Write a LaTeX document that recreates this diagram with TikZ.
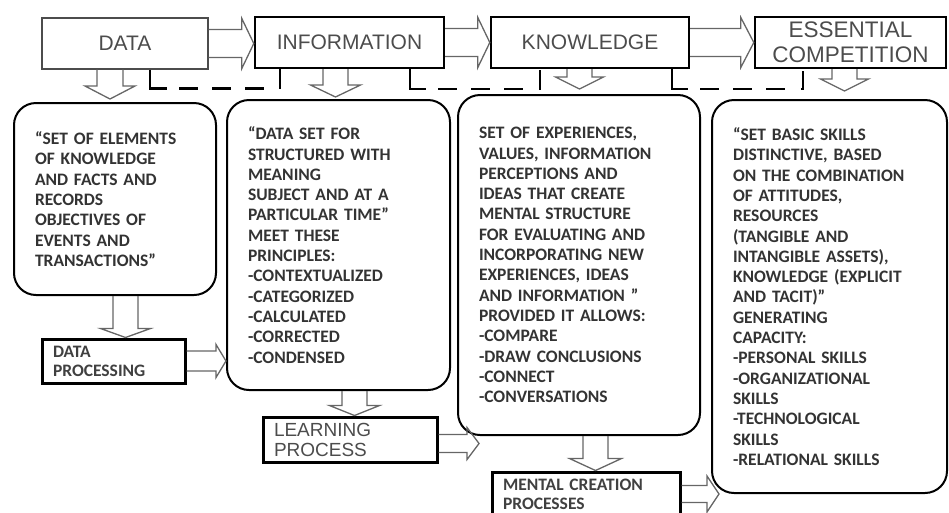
\documentclass[tikz,border=0pt]{standalone}
\usepackage{fontspec}
\setmainfont{Carlito}
\newfontfamily\arialfont{Liberation Sans}
\usetikzlibrary{calc}

% block arrows: from, to, half shaft, half head, head length
\newcommand{\blockright}[5]{%
  \draw[blockarrow] let \p1=(#1), \p2=(#2) in
    (\x1,\y1+#3pt) -- (\x2-#5pt,\y1+#3pt) -- (\x2-#5pt,\y1+#4pt)
    -- (\x2,\y1) -- (\x2-#5pt,\y1-#4pt) -- (\x2-#5pt,\y1-#3pt) -- (\x1,\y1-#3pt);}
\newcommand{\blockdown}[5]{%
  \draw[blockarrow] let \p1=(#1), \p2=(#2) in
    (\x1+#3pt,\y1) -- (\x1+#3pt,\y2+#5pt) -- (\x1+#4pt,\y2+#5pt)
    -- (\x1,\y2) -- (\x1-#4pt,\y2+#5pt) -- (\x1-#3pt,\y2+#5pt) -- (\x1-#3pt,\y1);}

\tikzset{
  stage/.style={draw=black, line width=2.4pt, minimum height=51pt, inner sep=0pt,
    align=center, text=black!70, font=\arialfont\fontsize{21}{25}\selectfont},
  defbox/.style={draw=black, line width=2pt, rounded corners=22pt, align=left,
    inner xsep=21pt, inner ysep=0pt, text=black!80,
    font=\bfseries\fontsize{17.5}{20.3}\selectfont},
  procbox/.style={draw=black, line width=3pt, align=left, inner xsep=11pt,
    inner ysep=0pt, text=black!75, font=\bfseries\fontsize{17.5}{19}\selectfont},
  blockarrow/.style={draw=black!60, line width=1.3pt, line join=miter},
  fbline/.style={line width=2.4pt,
    dash pattern=on 36pt off 12pt on 19pt off 14pt on 19pt off 14pt on 19pt off 16pt on 20pt off 20pt},
}

\begin{document}
\begin{tikzpicture}[x=1pt, y=-1pt]
\useasboundingbox (0,0) rectangle (949,512);

% stages
\node[stage, draw=black!70, line width=1.2pt, minimum width=166pt] (data) at (125,43.5) {DATA};
\node[stage, minimum width=189pt] (info) at (349.5,42.5) {INFORMATION};
\node[stage, minimum width=198pt] (know) at (590,42.5) {KNOWLEDGE};
\node[stage, minimum width=191pt, font=\arialfont\fontsize{22.5}{25}\selectfont] (comp) at (850.5,42.5) {ESSENTIAL\\COMPETITION};

% definitions
\node[defbox, text width=160pt, minimum height=192pt] (datadef) at (115,199)
  {“SET OF ELEMENTS\\OF KNOWLEDGE\\AND FACTS AND\\RECORDS\\OBJECTIVES OF\\EVENTS AND\\TRANSACTIONS”};
\node[defbox, text width=181pt, minimum height=290pt] (infodef) at (338.5,245)
  {“DATA SET FOR\\STRUCTURED WITH\\MEANING\\SUBJECT AND AT A\\PARTICULAR TIME”\\MEET THESE\\PRINCIPLES:\\-CONTEXTUALIZED\\-CATEGORIZED\\-CALCULATED\\-CORRECTED\\-CONDENSED};
\node[defbox, text width=200pt, minimum height=340pt] (knowdef) at (579,265)
  {SET OF EXPERIENCES,\\VALUES, INFORMATION\\PERCEPTIONS AND\\IDEAS THAT CREATE\\MENTAL STRUCTURE\\FOR EVALUATING AND\\INCORPORATING NEW\\EXPERIENCES, IDEAS\\AND INFORMATION ”\\PROVIDED IT ALLOWS:\\-COMPARE\\-DRAW CONCLUSIONS\\-CONNECT\\-CONVERSATIONS};
\node[defbox, text width=193pt, minimum height=393pt] (compdef) at (829.5,296.5)
  {“SET BASIC SKILLS\\DISTINCTIVE, BASED\\ON THE COMBINATION\\OF ATTITUDES,\\RESOURCES\\(TANGIBLE AND\\INTANGIBLE ASSETS),\\KNOWLEDGE (EXPLICIT\\AND TACIT)”\\GENERATING\\CAPACITY:\\-PERSONAL SKILLS\\-ORGANIZATIONAL\\SKILLS\\-TECHNOLOGICAL\\SKILLS\\-RELATIONAL SKILLS};

% processes
\node[procbox, text width=121pt, minimum height=44pt] (dproc) at (113.5,361) {DATA\\PROCESSING};
\node[procbox, text width=152pt, minimum height=45pt, text=black!70,
  font=\arialfont\fontsize{19}{20}\selectfont] (lproc) at (350,439.5) {LEARNING\\PROCESS};
\node[procbox, text width=166pt, minimum height=44pt] (mproc) at (586,494) {MENTAL CREATION\\PROCESSES};

% arrows between stages
\blockright{data.east}{info.west}{14}{25}{12}
\blockright{info.east}{know.west}{14}{25}{12}
\blockright{know.east}{comp.west}{14}{25}{13}

% arrows down to definitions
\blockdown{[xshift=-15pt]data.south}{[yshift=3pt]datadef.north}{13}{25}{13}
\blockdown{[xshift=-14pt]info.south}{[yshift=2pt]infodef.north}{12.5}{25}{12}
\blockdown{[xshift=-10.5pt]know.south}{[yshift=5pt]knowdef.north}{12.5}{24}{12}
\blockdown{[xshift=-6pt]comp.south}{[yshift=8pt]compdef.north}{12.5}{24}{12}

% processes
\blockdown{[xshift=10.5pt]datadef.south}{dproc.north}{12.5}{25}{9}
\blockright{dproc.east}{infodef.west}{10}{16.5}{10}
\blockdown{[xshift=16pt]infodef.south}{lproc.north}{12.5}{25}{10}
\blockright{[yshift=-4pt]lproc.east}{[xshift=22pt]knowdef.west}{9}{16}{12}
\blockdown{[xshift=16.5pt]knowdef.south}{mproc.north}{12.5}{26}{12}
\blockright{mproc.east}{[xshift=8pt]compdef.west}{8.5}{18}{12}

% dashed links
\draw[fbline] ([xshift=25pt]data.south) -- ++(0,19) -| ([xshift=-69.5pt]info.south);
\draw[fbline] ([xshift=60.5pt]info.south) -- ++(0,20) -| ([xshift=-50pt]know.south);
\draw[fbline] ([xshift=82pt]know.south) -- ++(0,20) -| ([xshift=-47.5pt]comp.south);

\end{tikzpicture}
\end{document}
